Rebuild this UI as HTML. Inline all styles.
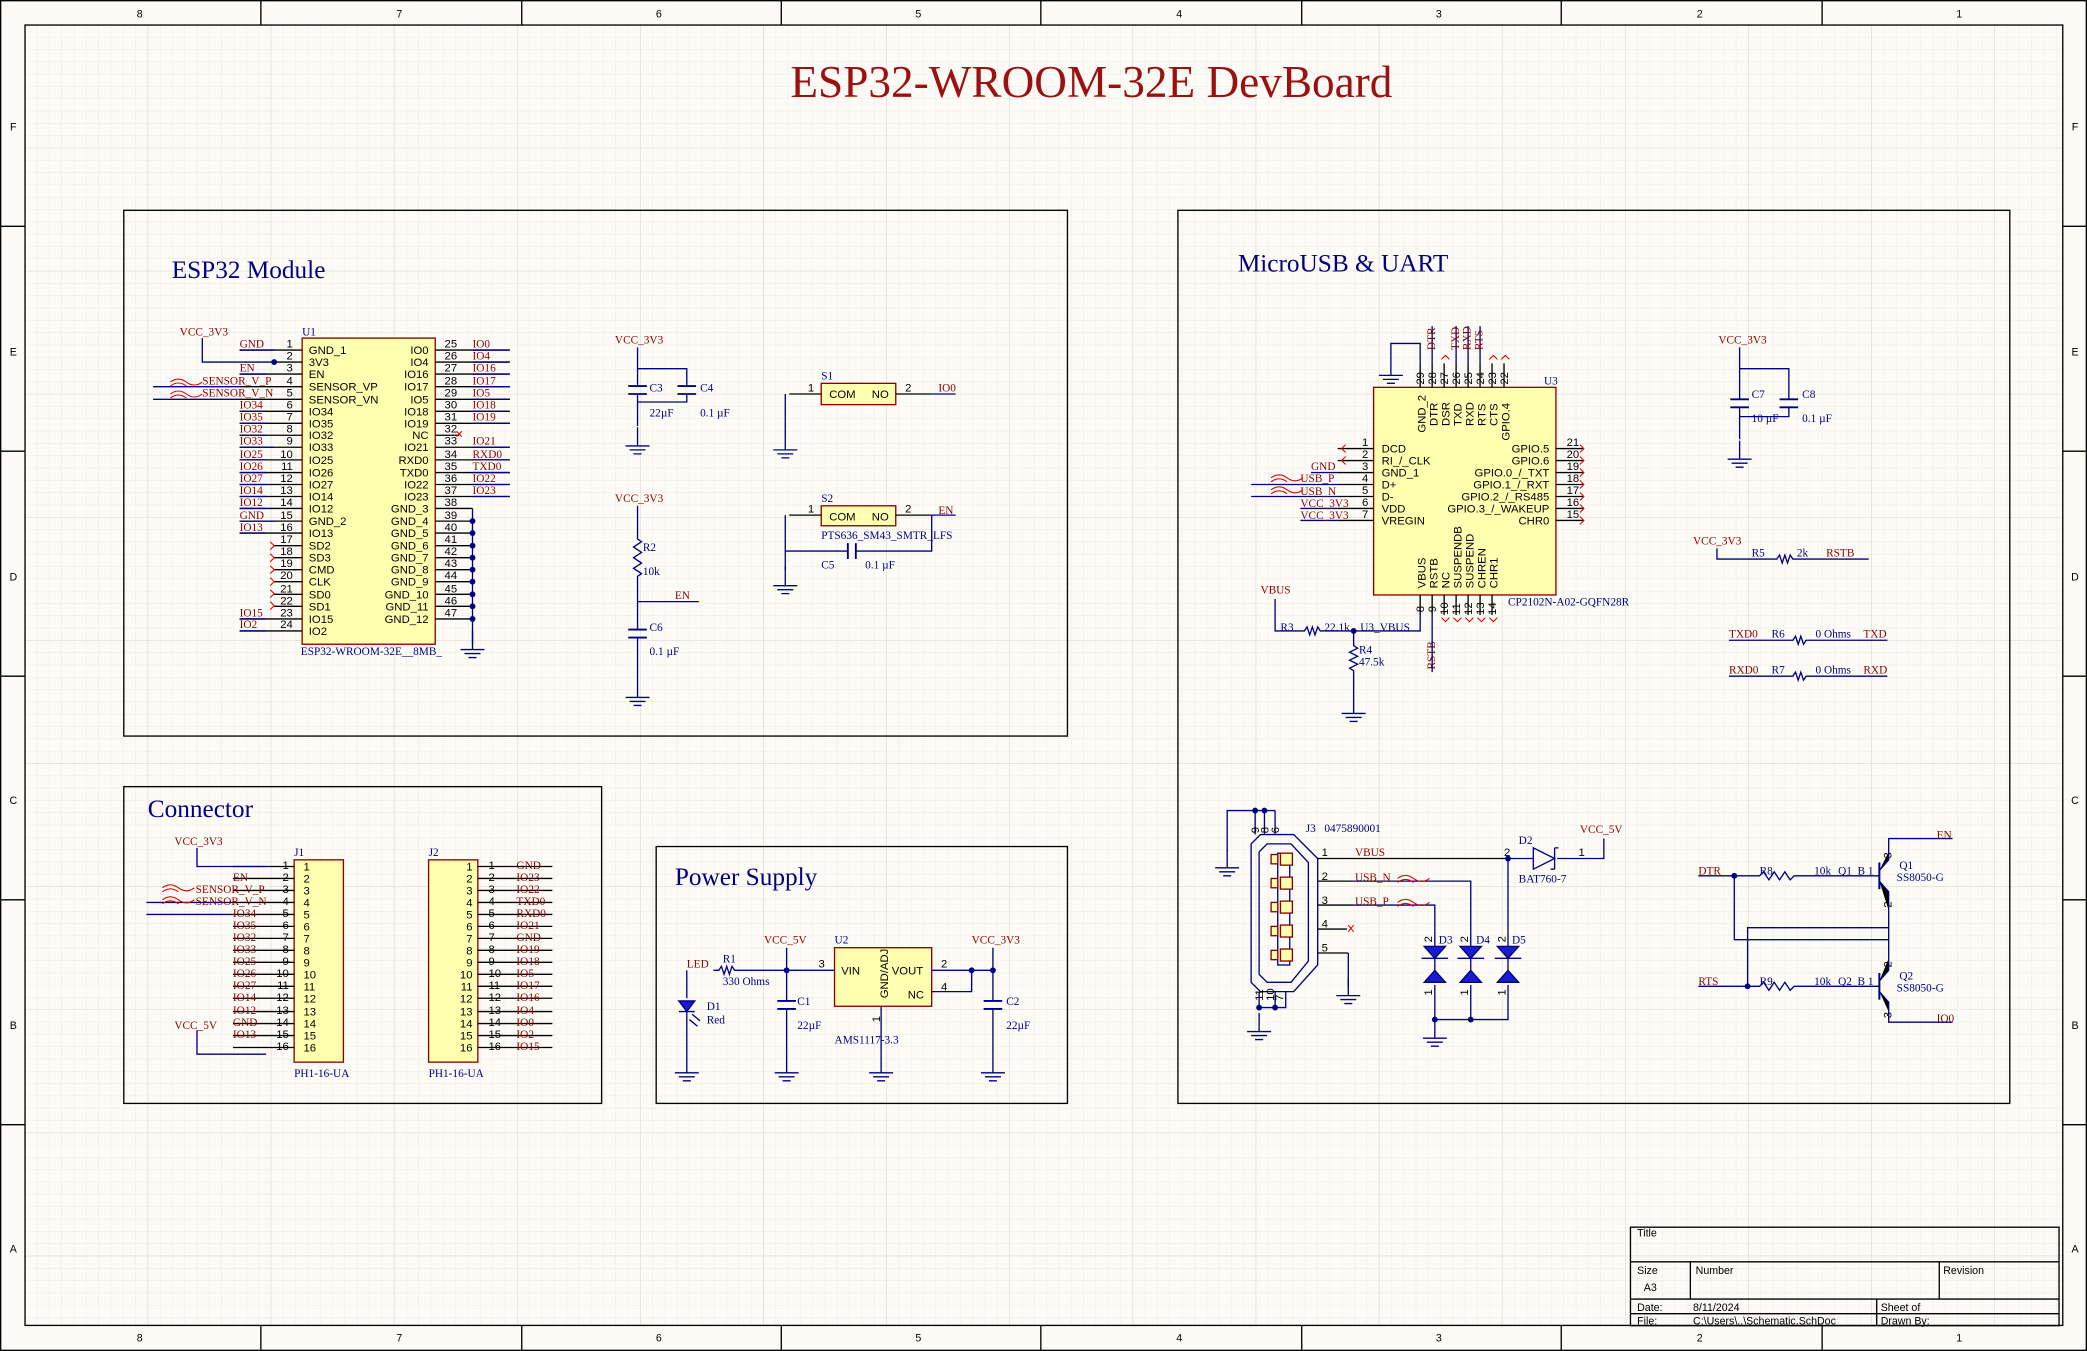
<!DOCTYPE html>
<html><head><meta charset="utf-8"><style>
html,body{margin:0;padding:0;background:#fdfbf6;}
svg{display:block}
.s{font-family:"Liberation Sans",sans-serif;font-size:8.5px;fill:#000}
.n{font-family:"Liberation Serif",serif;font-size:8.5px;fill:#8b0000}
.b{font-family:"Liberation Serif",serif;font-size:8.5px;fill:#000080}
.h{font-family:"Liberation Serif",serif;font-size:19px;fill:#000080}
.w{stroke:#000080;stroke-width:1;fill:none}
.p{stroke:#000;stroke-width:1;fill:none}
.body{fill:#ffffb0;stroke:#8b0000;stroke-width:1}
.f{font-family:"Liberation Sans",sans-serif;font-size:8px;fill:#000}
</style></head><body>
<svg width="2087" height="1351" viewBox="0 0 1568 1015" xmlns="http://www.w3.org/2000/svg">
<defs>
<pattern id="g1" x="18.8" y="18.8" width="9.25" height="9.25" patternUnits="userSpaceOnUse"><path d="M9.25 0V9.25H0" fill="none" stroke="#ecebe3" stroke-width="0.8"/></pattern>
<pattern id="g2" x="18.8" y="18.8" width="92.5" height="92.5" patternUnits="userSpaceOnUse"><path d="M92.5 0V92.5H0" fill="none" stroke="#d9d8d0" stroke-width="0.8"/></pattern>
<g id="gnd"><path d="M-9 0H9M-6 3H6M-3 6H3M0 -14V0" stroke="#000080" fill="none"/></g>
<g id="dot"><circle r="2.2" fill="#000080"/></g>
</defs>
<rect width="1568" height="1015" fill="#fdfbf6"/>
<rect x="18.8" y="18.8" width="1531" height="977" fill="url(#g1)"/>
<rect x="18.8" y="18.8" width="1531" height="977" fill="url(#g2)"/>
<rect x="0.5" y="0.5" width="1567" height="1014" fill="none" stroke="#000"/>
<rect x="18.8" y="18.8" width="1531" height="977" fill="none" stroke="#000"/>
<g stroke="#000">
<path d="M196 0V19M392 0V19M587 0V19M782 0V19M978 0V19M1173 0V19M1369 0V19"/>
<path d="M196 996V1015M392 996V1015M587 996V1015M782 996V1015M978 996V1015M1173 996V1015M1369 996V1015"/>
<path d="M0 170H19M0 339H19M0 508H19M0 676H19M0 845H19M1550 170H1568M1550 339H1568M1550 508H1568M1550 676H1568M1550 845H1568"/>
</g>
<g class="f" text-anchor="middle">
<text x="105" y="13">8</text><text x="300" y="13">7</text><text x="495" y="13">6</text><text x="690" y="13">5</text><text x="886" y="13">4</text><text x="1081" y="13">3</text><text x="1277" y="13">2</text><text x="1472" y="13">1</text>
<text x="105" y="1008">8</text><text x="300" y="1008">7</text><text x="495" y="1008">6</text><text x="690" y="1008">5</text><text x="886" y="1008">4</text><text x="1081" y="1008">3</text><text x="1277" y="1008">2</text><text x="1472" y="1008">1</text>
<text x="10" y="98">F</text><text x="10" y="267">E</text><text x="10" y="436">D</text><text x="10" y="604">C</text><text x="10" y="773">B</text><text x="10" y="941">A</text>
<text x="1559" y="98">F</text><text x="1559" y="267">E</text><text x="1559" y="436">D</text><text x="1559" y="604">C</text><text x="1559" y="773">B</text><text x="1559" y="941">A</text>
</g>
<text x="820" y="73" text-anchor="middle" font-family="Liberation Serif,serif" font-size="34" fill="#9b1010">ESP32-WROOM-32E DevBoard</text>

<!-- section boxes -->
<g fill="none" stroke="#000">
<rect x="93" y="158" width="709" height="395"/>
<rect x="885" y="158" width="625" height="671"/>
<rect x="93" y="591" width="359" height="238"/>
<rect x="493" y="636" width="309" height="193"/>
</g>
<text class="h" x="129" y="209">ESP32 Module</text>
<text class="h" x="930" y="204">MicroUSB &amp; UART</text>
<text class="h" x="111" y="614">Connector</text>
<text class="h" x="507" y="665">Power Supply</text>

<!-- U1 -->
<rect class="body" x="227" y="254" width="100" height="230"/>
<text class="b" x="227" y="252">U1</text>
<text class="b" x="226" y="492">ESP32-WROOM-32E__8MB_</text>
<g class="p">
<path d="M180 263H227M206 272H227M180 281H227M180 290.5H227M180 300H227M180 309H227M180 318H227M180 327H227M180 336H227M180 345.5H227M180 355H227M180 364H227M180 373H227M180 382H227M180 391.5H227M180 400.5H227M206 410H227M206 419H227M206 428H227M206 437H227M206 446.5H227M206 455.5H227M180 465H227M180 474H227"/>
<path d="M327 263H383M327 272H383M327 281H383M327 290.5H383M327 300H383M327 309H383M327 318H383M327 327H345M327 336H383M327 345.5H383M327 355H383M327 364H383M327 373H383M327 382H355M327 391.5H355M327 400.5H355M327 410H355M327 419H355M327 428H355M327 437H355M327 446.5H355M327 455.5H355M327 465H355"/>
</g>
<path class="w" d="M180 263H206M152 254V272H206M115 290.5H180M115 300H180M180 336H206M180 391.5H206M355 382V484"/>
<path class="w" d="M180 281H200M180 309H200M180 318H200M180 327H200M180 345.5H200M180 355H200M180 364H200M180 373H200M180 382H200M180 400.5H200M180 465H200M180 474H200"/>
<path class="w" d="M355 263H383M355 272H383M355 281H383M355 290.5H383M355 300H383M355 309H383M355 318H383M355 336H383M355 345.5H383M355 355H383M355 364H383M355 373H383"/>
<use href="#dot" x="206" y="272"/>
<use href="#dot" x="355" y="391.5"/><use href="#dot" x="355" y="400.5"/><use href="#dot" x="355" y="410"/><use href="#dot" x="355" y="419"/><use href="#dot" x="355" y="428"/><use href="#dot" x="355" y="437"/><use href="#dot" x="355" y="446.5"/><use href="#dot" x="355" y="455.5"/><use href="#dot" x="355" y="465"/>
<use href="#gnd" x="355" y="488"/>
<text class="n" x="135" y="252">VCC_3V3</text>
<g class="s" text-anchor="end">
<text x="220" y="261">1</text><text x="220" y="270">2</text><text x="220" y="279">3</text><text x="220" y="289">4</text><text x="220" y="298">5</text><text x="220" y="307">6</text><text x="220" y="316">7</text><text x="220" y="325">8</text><text x="220" y="334">9</text><text x="220" y="344">10</text><text x="220" y="353">11</text><text x="220" y="362">12</text><text x="220" y="371">13</text><text x="220" y="380">14</text><text x="220" y="390">15</text><text x="220" y="399">16</text><text x="220" y="408">17</text><text x="220" y="417">18</text><text x="220" y="426">19</text><text x="220" y="435">20</text><text x="220" y="445">21</text><text x="220" y="454">22</text><text x="220" y="463">23</text><text x="220" y="472">24</text>
</g>
<g class="s">
<text x="232" y="266">GND_1</text><text x="232" y="275">3V3</text><text x="232" y="284">EN</text><text x="232" y="293.5">SENSOR_VP</text><text x="232" y="303">SENSOR_VN</text><text x="232" y="312">IO34</text><text x="232" y="321">IO35</text><text x="232" y="330">IO32</text><text x="232" y="339">IO33</text><text x="232" y="348.5">IO25</text><text x="232" y="358">IO26</text><text x="232" y="367">IO27</text><text x="232" y="376">IO14</text><text x="232" y="385">IO12</text><text x="232" y="394.5">GND_2</text><text x="232" y="403.5">IO13</text><text x="232" y="413">SD2</text><text x="232" y="422">SD3</text><text x="232" y="431">CMD</text><text x="232" y="440">CLK</text><text x="232" y="449.5">SD0</text><text x="232" y="458.5">SD1</text><text x="232" y="468">IO15</text><text x="232" y="477">IO2</text>
</g>
<g class="s" text-anchor="end">
<text x="322" y="266">IO0</text><text x="322" y="275">IO4</text><text x="322" y="284">IO16</text><text x="322" y="293.5">IO17</text><text x="322" y="303">IO5</text><text x="322" y="312">IO18</text><text x="322" y="321">IO19</text><text x="322" y="330">NC</text><text x="322" y="339">IO21</text><text x="322" y="348.5">RXD0</text><text x="322" y="358">TXD0</text><text x="322" y="367">IO22</text><text x="322" y="376">IO23</text><text x="322" y="385">GND_3</text><text x="322" y="394.5">GND_4</text><text x="322" y="403.5">GND_5</text><text x="322" y="413">GND_6</text><text x="322" y="422">GND_7</text><text x="322" y="431">GND_8</text><text x="322" y="440">GND_9</text><text x="322" y="449.5">GND_10</text><text x="322" y="458.5">GND_11</text><text x="322" y="468">GND_12</text>
</g>
<g class="s">
<text x="334" y="261">25</text><text x="334" y="270">26</text><text x="334" y="279">27</text><text x="334" y="289">28</text><text x="334" y="298">29</text><text x="334" y="307">30</text><text x="334" y="316">31</text><text x="334" y="325">32</text><text x="334" y="334">33</text><text x="334" y="344">34</text><text x="334" y="353">35</text><text x="334" y="362">36</text><text x="334" y="371">37</text><text x="334" y="380">38</text><text x="334" y="390">39</text><text x="334" y="399">40</text><text x="334" y="408">41</text><text x="334" y="417">42</text><text x="334" y="426">43</text><text x="334" y="435">44</text><text x="334" y="445">45</text><text x="334" y="454">46</text><text x="334" y="463">47</text>
</g>
<g class="n">
<text x="180" y="261">GND</text><text x="180" y="279">EN</text><text x="152" y="289">SENSOR_V_P</text><text x="152" y="298">SENSOR_V_N</text><text x="180" y="307">IO34</text><text x="180" y="316">IO35</text><text x="180" y="325">IO32</text><text x="180" y="334">IO33</text><text x="180" y="344">IO25</text><text x="180" y="353">IO26</text><text x="180" y="362">IO27</text><text x="180" y="371">IO14</text><text x="180" y="380">IO12</text><text x="180" y="390">GND</text><text x="180" y="399">IO13</text><text x="180" y="463">IO15</text><text x="180" y="472">IO2</text>
<text x="355" y="261">IO0</text><text x="355" y="270">IO4</text><text x="355" y="279">IO16</text><text x="355" y="289">IO17</text><text x="355" y="298">IO5</text><text x="355" y="307">IO18</text><text x="355" y="316">IO19</text><text x="355" y="334">IO21</text><text x="355" y="344">RXD0</text><text x="355" y="353">TXD0</text><text x="355" y="362">IO22</text><text x="355" y="371">IO23</text>
</g>
<g stroke="#e00000" stroke-width="0.8" fill="none">
<path d="M128 287c4-3 8-3 12 0c4 3 8 3 12 0M128 290c4-3 8-3 12 0M128 296c4-3 8-3 12 0c4 3 8 3 12 0M128 299c4-3 8-3 12 0"/>
<path d="M203 407l3 3-3 3M203 416l3 3-3 3M203 425l3 3-3 3M203 434l3 3-3 3M203 443l3 3-3 3M203 452l3 3-3 3M343 324l4 4M343 328l4-4"/>
</g>

<!-- C3 C4 -->
<text class="n" x="462" y="258">VCC_3V3</text>
<path class="w" d="M479 261V277H516V290M479 277V290M479 296V320M516 296V302H479"/>
<path stroke="#000080" stroke-width="1.4" d="M472 290H486M472 296H486M509 290H523M509 296H523"/>
<use href="#gnd" x="479" y="335"/>
<text class="b" x="488" y="294">C3</text><text class="b" x="488" y="313">22µF</text>
<text class="b" x="526" y="294">C4</text><text class="b" x="526" y="313">0.1 µF</text>
<!-- S1 -->
<rect class="body" x="617" y="288" width="56" height="16"/>
<text class="s" x="623" y="299">COM</text><text class="s" x="655" y="299">NO</text>
<text class="b" x="617" y="285">S1</text>
<path class="p" d="M593 296H617M673 296H700"/>
<path class="w" d="M590 296V325M700 296H718"/>
<use href="#gnd" x="590" y="338"/>
<text class="s" x="607" y="294">1</text><text class="s" x="680" y="294">2</text>
<text class="n" x="705" y="294">IO0</text>
<!-- S2 -->
<rect class="body" x="617" y="380" width="56" height="15"/>
<text class="s" x="623" y="391">COM</text><text class="s" x="655" y="391">NO</text>
<text class="b" x="617" y="377">S2</text>
<path class="p" d="M593 387H617M673 387H700"/>
<path class="w" d="M590 387V428M700 387H718M700 387V414H643M637 414H590"/>
<path stroke="#000080" stroke-width="1.4" d="M637 408V420M643 408V420"/>
<use href="#gnd" x="590" y="440"/>
<text class="s" x="607" y="385">1</text><text class="s" x="680" y="385">2</text>
<text class="n" x="705" y="386">EN</text>
<text class="b" x="617" y="405">PTS636_SM43_SMTR_LFS</text>
<text class="b" x="617" y="427">C5</text><text class="b" x="650" y="427">0.1 µF</text>
<!-- R2 C6 -->
<text class="n" x="462" y="377">VCC_3V3</text>
<path class="w" d="M479 380V405l3 2-6 4 6 4-6 4 6 4-6 4 6 4-3 2V473M479 479V510M479 452H525"/>
<path stroke="#000080" stroke-width="1.4" d="M472 473H486M472 479H486"/>
<use href="#gnd" x="479" y="524"/>
<text class="b" x="483" y="414">R2</text><text class="b" x="483" y="432">10k</text>
<text class="n" x="507" y="450">EN</text>
<text class="b" x="488" y="474">C6</text><text class="b" x="488" y="492">0.1 µF</text>

<!-- J1 -->
<rect class="body" x="221" y="646" width="37" height="152"/>
<text class="b" x="221" y="643">J1</text><text class="b" x="221" y="809">PH1-16-UA</text>
<g class="p"><path d="M175 651H221M175 660H221M175 669H221M175 678H221M175 687H221M175 696H221M175 705H221M175 714H221M175 723H221M175 732H221M175 741H221M175 750H221M175 760H221M175 769H221M175 778H221M175 787H221"/></g>
<path class="w" d="M148 637V651H200M148 774V792H200M110 678H175M110 687H175"/>
<text class="n" x="131" y="635">VCC_3V3</text><text class="n" x="131" y="773">VCC_5V</text>
<g class="s" text-anchor="end">
<text x="217" y="653">1</text><text x="217" y="662">2</text><text x="217" y="671">3</text><text x="217" y="680">4</text><text x="217" y="689">5</text><text x="217" y="698">6</text><text x="217" y="707">7</text><text x="217" y="716">8</text><text x="217" y="725">9</text><text x="217" y="734">10</text><text x="217" y="743">11</text><text x="217" y="752">12</text><text x="217" y="762">13</text><text x="217" y="771">14</text><text x="217" y="780">15</text><text x="217" y="789">16</text>
</g>
<g class="s">
<text x="228" y="654">1</text><text x="228" y="663">2</text><text x="228" y="672">3</text><text x="228" y="681">4</text><text x="228" y="690">5</text><text x="228" y="699">6</text><text x="228" y="708">7</text><text x="228" y="717">8</text><text x="228" y="726">9</text><text x="228" y="735">10</text><text x="228" y="744">11</text><text x="228" y="753">12</text><text x="228" y="763">13</text><text x="228" y="772">14</text><text x="228" y="781">15</text><text x="228" y="790">16</text>
</g>
<g class="n">
<text x="175" y="662">EN</text><text x="147" y="671">SENSOR_V_P</text><text x="147" y="680">SENSOR_V_N</text><text x="175" y="689">IO34</text><text x="175" y="698">IO35</text><text x="175" y="707">IO32</text><text x="175" y="716">IO33</text><text x="175" y="725">IO25</text><text x="175" y="734">IO26</text><text x="175" y="743">IO27</text><text x="175" y="752">IO14</text><text x="175" y="762">IO12</text><text x="175" y="771">GND</text><text x="175" y="780">IO13</text>
</g>
<g stroke="#e00000" stroke-width="0.8" fill="none"><path d="M122 667c4-3 8-3 12 0c4 3 8 3 12 0M122 670c4-3 8-3 12 0M122 676c4-3 8-3 12 0c4 3 8 3 12 0M122 679c4-3 8-3 12 0"/></g>
<!-- J2 -->
<rect class="body" x="322" y="646" width="37" height="152"/>
<text class="b" x="322" y="643">J2</text><text class="b" x="322" y="809">PH1-16-UA</text>
<g class="p"><path d="M359 651H415M359 660H415M359 669H415M359 678H415M359 687H415M359 696H415M359 705H415M359 714H415M359 723H415M359 732H415M359 741H415M359 750H415M359 760H415M359 769H415M359 778H415M359 787H415"/></g>
<g class="s" text-anchor="end">
<text x="355" y="654">1</text><text x="355" y="663">2</text><text x="355" y="672">3</text><text x="355" y="681">4</text><text x="355" y="690">5</text><text x="355" y="699">6</text><text x="355" y="708">7</text><text x="355" y="717">8</text><text x="355" y="726">9</text><text x="355" y="735">10</text><text x="355" y="744">11</text><text x="355" y="753">12</text><text x="355" y="763">13</text><text x="355" y="772">14</text><text x="355" y="781">15</text><text x="355" y="790">16</text>
</g>
<g class="s">
<text x="367" y="653">1</text><text x="367" y="662">2</text><text x="367" y="671">3</text><text x="367" y="680">4</text><text x="367" y="689">5</text><text x="367" y="698">6</text><text x="367" y="707">7</text><text x="367" y="716">8</text><text x="367" y="725">9</text><text x="367" y="734">10</text><text x="367" y="743">11</text><text x="367" y="752">12</text><text x="367" y="762">13</text><text x="367" y="771">14</text><text x="367" y="780">15</text><text x="367" y="789">16</text>
</g>
<g class="n">
<text x="388" y="653">GND</text><text x="388" y="662">IO23</text><text x="388" y="671">IO22</text><text x="388" y="680">TXD0</text><text x="388" y="689">RXD0</text><text x="388" y="698">IO21</text><text x="388" y="707">GND</text><text x="388" y="716">IO19</text><text x="388" y="725">IO18</text><text x="388" y="734">IO5</text><text x="388" y="743">IO17</text><text x="388" y="752">IO16</text><text x="388" y="762">IO4</text><text x="388" y="771">IO0</text><text x="388" y="780">IO2</text><text x="388" y="789">IO15</text>
</g>

<!-- Power supply -->
<text class="n" x="516" y="727">LED</text>
<path class="w" d="M516 729V750M516 760V792M536 729H540l2-3 2 6 2-6 2 6 2-6 2 3H627M591 729V752M591 758V792M591 712V729M662 756V792M700 729H746M700 745H730V729M746 712V752M746 758V792"/>
<path fill="#1a1ad0" stroke="#000080" d="M510 752H522L516 760Z"/><path stroke="#000080" d="M510 760H522M520 762l6 5M518 766l6 5"/>
<path stroke="#000080" stroke-width="1.4" d="M584 752H598M584 758H598M739 752H753M739 758H753"/>
<use href="#dot" x="591" y="729"/><use href="#dot" x="730" y="729"/><use href="#dot" x="746" y="729"/>
<use href="#gnd" x="516" y="806"/><use href="#gnd" x="591" y="806"/><use href="#gnd" x="662" y="806"/><use href="#gnd" x="746" y="806"/>
<text class="b" x="543" y="723">R1</text><text class="b" x="543" y="740">330 Ohms</text>
<text class="b" x="531" y="759">D1</text><text class="b" x="531" y="769">Red</text>
<text class="n" x="574" y="709">VCC_5V</text><text class="n" x="730" y="709">VCC_3V3</text>
<rect class="body" x="627" y="712" width="73" height="44"/>
<text class="b" x="627" y="709">U2</text>
<text class="s" x="632" y="732">VIN</text><text class="s" x="670" y="732">VOUT</text><text class="s" x="682" y="750">NC</text>
<text class="s" transform="translate(667,750) rotate(-90)">GND/ADJ</text>
<text class="s" x="615" y="727">3</text><text class="s" x="707" y="727">2</text><text class="s" x="707" y="744">4</text>
<text class="s" transform="translate(661,768) rotate(-90)">1</text>
<text class="b" x="599" y="755">C1</text><text class="b" x="599" y="773">22µF</text>
<text class="b" x="756" y="755">C2</text><text class="b" x="756" y="773">22µF</text>
<text class="b" x="627" y="784">AMS1117-3.3</text>

<!-- U3 -->
<rect class="body" x="1032" y="291" width="137" height="156"/>
<text class="b" x="1160" y="289">U3</text><text class="b" x="1133" y="455">CP2102N-A02-GQFN28R</text>
<g class="p">
<path d="M1067 273V291M1076 273V291M1085 273V291M1094 273V291M1103 273V291M1112 273V291M1121 273V291M1130 273V291"/>
<path d="M1005 337H1032M1005 346H1032M1005 355H1032M1005 364H1032M1005 373H1032M1005 382H1032M1005 391H1032"/>
<path d="M1169 337H1190M1169 346H1190M1169 355H1190M1169 364H1190M1169 373H1190M1169 382H1190M1169 391H1190"/>
<path d="M1067 447V462M1076 447V462M1085 447V462M1094 447V462M1103 447V462M1112 447V462M1121 447V462"/>
</g>
<path class="w" d="M1067 273V258H1045V268M1076 273V245M1094 273V245M1103 273V245M1112 273V245M1005 355H985M1005 364H940M1005 373H940M1005 382H977M1005 391H977"/>
<use href="#gnd" x="1045" y="282"/>
<g class="s">
<text transform="translate(1070,289) rotate(-90)">29</text><text transform="translate(1079,289) rotate(-90)">28</text><text transform="translate(1088,289) rotate(-90)">27</text><text transform="translate(1097,289) rotate(-90)">26</text><text transform="translate(1106,289) rotate(-90)">25</text><text transform="translate(1115,289) rotate(-90)">24</text><text transform="translate(1124,289) rotate(-90)">23</text><text transform="translate(1133,289) rotate(-90)">22</text>
<text transform="translate(1071,325) rotate(-90)">GND_2</text><text transform="translate(1080,320) rotate(-90)">DTR</text><text transform="translate(1089,320) rotate(-90)">DSR</text><text transform="translate(1098,320) rotate(-90)">TXD</text><text transform="translate(1107,320) rotate(-90)">RXD</text><text transform="translate(1116,320) rotate(-90)">RTS</text><text transform="translate(1125,320) rotate(-90)">CTS</text><text transform="translate(1134,331) rotate(-90)">GPIO.4</text>
<text x="1038" y="340">DCD</text><text x="1038" y="349">RI_/_CLK</text><text x="1038" y="358">GND_1</text><text x="1038" y="367">D+</text><text x="1038" y="376">D-</text><text x="1038" y="385">VDD</text><text x="1038" y="394">VREGIN</text>
<text x="1028" y="335" text-anchor="end">1</text><text x="1028" y="344" text-anchor="end">2</text><text x="1028" y="353" text-anchor="end">3</text><text x="1028" y="362" text-anchor="end">4</text><text x="1028" y="371" text-anchor="end">5</text><text x="1028" y="380" text-anchor="end">6</text><text x="1028" y="389" text-anchor="end">7</text>
<text x="1164" y="340" text-anchor="end">GPIO.5</text><text x="1164" y="349" text-anchor="end">GPIO.6</text><text x="1164" y="358" text-anchor="end">GPIO.0_/_TXT</text><text x="1164" y="367" text-anchor="end">GPIO.1_/_RXT</text><text x="1164" y="376" text-anchor="end">GPIO.2_/_RS485</text><text x="1164" y="385" text-anchor="end">GPIO.3_/_WAKEUP</text><text x="1164" y="394" text-anchor="end">CHR0</text>
<text x="1177" y="335">21</text><text x="1177" y="344">20</text><text x="1177" y="353">19</text><text x="1177" y="362">18</text><text x="1177" y="371">17</text><text x="1177" y="380">16</text><text x="1177" y="389">15</text>
<text transform="translate(1071,442) rotate(-90)">VBUS</text><text transform="translate(1080,442) rotate(-90)">RSTB</text><text transform="translate(1089,442) rotate(-90)">NC</text><text transform="translate(1098,442) rotate(-90)">SUSPENDB</text><text transform="translate(1107,442) rotate(-90)">SUSPEND</text><text transform="translate(1116,442) rotate(-90)">CHREN</text><text transform="translate(1125,442) rotate(-90)">CHR1</text>
<text transform="translate(1070,460) rotate(-90)">8</text><text transform="translate(1079,460) rotate(-90)">9</text><text transform="translate(1088,462) rotate(-90)">10</text><text transform="translate(1097,462) rotate(-90)">11</text><text transform="translate(1106,462) rotate(-90)">12</text><text transform="translate(1115,462) rotate(-90)">13</text><text transform="translate(1124,462) rotate(-90)">14</text>
</g>
<g class="n">
<text transform="translate(1078,263) rotate(-90)">DTR</text><text transform="translate(1096,263) rotate(-90)">TXD</text><text transform="translate(1105,263) rotate(-90)">RXD</text><text transform="translate(1114,263) rotate(-90)">RTS</text>
<text x="985" y="353">GND</text><text x="977" y="362">USB_P</text><text x="977" y="372">USB_N</text><text x="977" y="381">VCC_3V3</text><text x="977" y="390">VCC_3V3</text>
<text x="947" y="446">VBUS</text>
<text transform="translate(1078,503) rotate(-90)">RSTB</text>
</g>
<g stroke="#e00000" stroke-width="0.8" fill="none"><path d="M955 359c4-3 8-3 12 0c4 3 8 3 12 0M955 362c4-3 8-3 12 0M955 368c4-3 8-3 12 0c4 3 8 3 12 0M955 371c4-3 8-3 12 0"/>
<path d="M1187 334l3 3-3 3M1187 343l3 3-3 3M1187 352l3 3-3 3M1187 361l3 3-3 3M1187 370l3 3-3 3M1187 379l3 3-3 3M1187 388l3 3-3 3M1011 334l-3 3 3 3M1011 343l-3 3 3 3M1083 464l3 3 3-3M1092 464l3 3 3-3M1101 464l3 3 3-3M1110 464l3 3 3-3M1119 464l3 3 3-3M1083 270l3-3 3 3M1119 270l3-3 3 3M1128 270l3-3 3 3"/></g>
<path class="w" d="M958 450V474H980l2-3 2 6 2-6 2 6 2-6 2 3H1067V462M1017 474V485l3 2-6 3 6 3-6 3 6 3-6 3 3 2V522M1076 462V505"/>
<use href="#dot" x="1017" y="474"/><use href="#gnd" x="1017" y="536"/>
<text class="b" x="962" y="474">R3</text><text class="b" x="995" y="474">22.1k</text><text class="b" x="1022" y="474">U3_VBUS</text>
<text class="b" x="1021" y="491">R4</text><text class="b" x="1021" y="500">47.5k</text>
<!-- C7 C8 -->
<text class="n" x="1291" y="258">VCC_3V3</text>
<path class="w" d="M1307 261V277H1344V300M1307 277V300M1307 306V330M1344 306V313H1307"/>
<path stroke="#000080" stroke-width="1.4" d="M1300 300H1314M1300 306H1314M1337 300H1351M1337 306H1351"/>
<use href="#gnd" x="1307" y="345"/>
<text class="b" x="1316" y="299">C7</text><text class="b" x="1316" y="317">10 µF</text>
<text class="b" x="1354" y="299">C8</text><text class="b" x="1354" y="317">0.1 µF</text>
<!-- R5 R6 R7 -->
<text class="n" x="1272" y="409">VCC_3V3</text>
<path class="w" d="M1290 412V420H1335l2-3 2 6 2-6 2 6 2-6 2 3H1404"/>
<text class="b" x="1316" y="418">R5</text><text class="b" x="1350" y="418">2k</text><text class="n" x="1372" y="418">RSTB</text>
<path class="w" d="M1299 481H1347l2-3 2 6 2-6 2 6 2-3H1418M1299 508H1347l2-3 2 6 2-6 2 6 2-3H1418"/>
<text class="n" x="1299" y="479">TXD0</text><text class="b" x="1331" y="479">R6</text><text class="b" x="1364" y="479">0 Ohms</text><text class="n" x="1400" y="479">TXD</text>
<text class="n" x="1299" y="506">RXD0</text><text class="b" x="1331" y="506">R7</text><text class="b" x="1364" y="506">0 Ohms</text><text class="n" x="1400" y="506">RXD</text>

<!-- J3 -->
<path d="M943 627V609M950 627V609M958 627V609M943 609H958M946 745V757M958 745V757M946 757H966V745" class="w"/>
<path class="w" d="M943 609H922V640"/>
<use href="#dot" x="943" y="609"/><use href="#dot" x="950" y="609"/><use href="#gnd" x="922" y="652"/>
<use href="#dot" x="946" y="757"/><use href="#dot" x="958" y="757"/><use href="#gnd" x="946" y="775"/>
<path class="w" d="M947 627H972L990 645V725L972 745H947L940 738V634Z"/>
<path class="w" d="M952 634H970L983 648V722L970 738H952L946 732V640Z"/>
<rect x="960" y="641" width="9" height="84" fill="none" stroke="#000080"/>
<g fill="#ffffb0" stroke="#8b0000"><rect x="962" y="641" width="9" height="9"/><rect x="962" y="659" width="9" height="9"/><rect x="962" y="677" width="9" height="9"/><rect x="962" y="695" width="9" height="9"/><rect x="962" y="713" width="9" height="9"/><rect x="955" y="642" width="5" height="7"/><rect x="955" y="660" width="5" height="7"/><rect x="955" y="678" width="5" height="7"/><rect x="955" y="696" width="5" height="7"/><rect x="955" y="714" width="5" height="7"/></g>
<text class="b" x="981" y="625">J3</text><text class="b" x="995" y="625">0475890001</text>
<g class="s"><text transform="translate(946,626) rotate(-90)">9</text><text transform="translate(953,626) rotate(-90)">8</text><text transform="translate(961,626) rotate(-90)">6</text><text transform="translate(949,752) rotate(-90)">11</text><text transform="translate(957,752) rotate(-90)">10</text><text transform="translate(964,752) rotate(-90)">7</text>
<text x="993" y="643">1</text><text x="993" y="661">2</text><text x="993" y="679">3</text><text x="993" y="697">4</text><text x="993" y="715">5</text>
<text x="1130" y="643">2</text><text x="1186" y="643">1</text>
</g>
<path class="p" d="M990 645H1133M990 662H1017M990 680H1017M990 698H1012M990 716H1013"/>
<path class="w" d="M1017 662H1105V700M1017 680H1078V700M1013 716V742M1133 645V700M1133 645H1152M1170 645H1205V630M1078 740V766H1133V740M1105 740V766"/>
<path fill="none" stroke="#000080" d="M1152 637V653L1168 645Z M1168 637V653M1168 637H1171M1168 653H1165"/>
<use href="#dot" x="1133" y="645"/><use href="#dot" x="1078" y="766"/><use href="#dot" x="1105" y="766"/><use href="#gnd" x="1013" y="748"/><use href="#gnd" x="1078" y="780"/>
<g fill="#1a1ad0" stroke="#000080"><path d="M1070 711H1086L1078 720ZM1070 738H1086L1078 729ZM1097 711H1113L1105 720ZM1097 738H1113L1105 729ZM1125 711H1141L1133 720ZM1125 738H1141L1133 729Z"/></g>
<path stroke="#000080" d="M1078 700V711M1105 700V711M1133 700V711M1078 720V729M1105 720V729M1133 720V729M1068 720H1088M1095 720H1115M1123 720H1143"/>
<g class="s"><text transform="translate(1076,708) rotate(-90)">2</text><text transform="translate(1103,708) rotate(-90)">2</text><text transform="translate(1131,708) rotate(-90)">2</text><text transform="translate(1076,748) rotate(-90)">1</text><text transform="translate(1103,748) rotate(-90)">1</text><text transform="translate(1131,748) rotate(-90)">1</text></g>
<text class="b" x="1081" y="709">D3</text><text class="b" x="1109" y="709">D4</text><text class="b" x="1136" y="709">D5</text>
<text class="b" x="1141" y="634">D2</text><text class="b" x="1141" y="663">BAT760-7</text>
<text class="n" x="1187" y="626">VCC_5V</text>
<text class="n" x="1018" y="643">VBUS</text><text class="n" x="1018" y="662">USB_N</text><text class="n" x="1018" y="680">USB_P</text>
<g stroke="#e00000" stroke-width="0.8" fill="none"><path d="M1050 660c4-3 8-3 12 0c4 3 8 3 12 0M1050 663c4-3 8-3 12 0M1050 678c4-3 8-3 12 0c4 3 8 3 12 0M1050 681c4-3 8-3 12 0M1013 695l4 5M1013 700l4-5"/></g>
<!-- Q1 Q2 -->
<path class="w" d="M1276 658H1322l3-3 4 6 4-6 4 6 4-6 4 6 3-3H1412M1303 658V706H1419V684M1276 741H1322l3-3 4 6 4-6 4 6 4-6 4 6 3-3H1412M1313 741V697H1419V720M1419 640V630H1467M1419 760V768H1467"/>
<path stroke="#000080" stroke-width="1.5" d="M1412 648V668M1412 731V751"/>
<path stroke="#000080" d="M1412 654L1419 646V640M1412 662L1419 670V684M1412 737L1419 729V720M1412 745L1419 753V760"/>
<use href="#dot" x="1303" y="658"/><use href="#dot" x="1313" y="741"/>
<text class="n" x="1276" y="657">DTR</text><text class="n" x="1276" y="740">RTS</text>
<text class="b" x="1322" y="657">R8</text><text class="b" x="1363" y="657">10k</text><text class="b" x="1381" y="657">Q1_B 1</text>
<text class="b" x="1322" y="740">R9</text><text class="b" x="1363" y="740">10k</text><text class="b" x="1381" y="740">Q2_B 1</text>
<text class="b" x="1427" y="653">Q1</text><text class="b" x="1425" y="662">SS8050-G</text>
<text class="b" x="1427" y="736">Q2</text><text class="b" x="1425" y="745">SS8050-G</text>
<text class="n" x="1455" y="630">EN</text><text class="n" x="1455" y="768">IO0</text>
<g class="s"><text transform="translate(1421,645) rotate(-90)">3</text><text transform="translate(1421,682) rotate(-90)">2</text><text transform="translate(1421,727) rotate(-90)">2</text><text transform="translate(1421,765) rotate(-90)">3</text></g>

<!-- Title block -->
<g fill="none" stroke="#000"><rect x="1225" y="922" width="322" height="74"/><path d="M1225 948H1547M1225 976H1547M1225 987H1547M1270 948V976M1457 948V976M1410 976V996"/></g>
<g class="f">
<text x="1230" y="929">Title</text><text x="1230" y="957">Size</text><text x="1274" y="957">Number</text><text x="1460" y="957">Revision</text><text x="1235" y="970">A3</text>
<text x="1230" y="985">Date:</text><text x="1272" y="985">8/11/2024</text><text x="1413" y="985">Sheet  of</text>
<text x="1230" y="995">File:</text><text x="1272" y="995">C:\Users\..\Schematic.SchDoc</text><text x="1413" y="995">Drawn By:</text>
</g>
</svg>
</body></html>
